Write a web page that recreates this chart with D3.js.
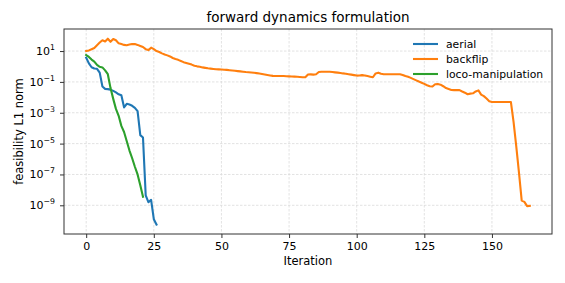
<!DOCTYPE html>
<html>
<head>
<meta charset="utf-8">
<script src="https://cdn.jsdelivr.net/npm/d3@7"></script>
<style>
  body { margin: 0; background: #fff; }
  text { font-family: "DejaVu Sans", sans-serif; fill: #000; }
</style>
</head>
<body>
<script>
// chart size
var w = 565, h = 283;
var margin = {left: 64, right: 13, top: 29, bottom: 49};

// iteration index is the array position for each series
var aerial = [
  3.72, 1.58, 0.891, 0.741, 0.708, 0.398, 0.0501, 0.0355, 0.0339, 0.0316,
  0.0263, 0.0209, 0.0158, 0.0135, 0.00224, 0.0038, 0.00339, 0.00282, 0.00209, 0.00126,
  3.55e-5, 2.51e-5, 4.47e-9, 1.58e-9, 2.24e-9, 1.26e-10, 5.62e-11
];

var backflip = [
  10.0, 11.0, 13.2, 15.8, 24.0, 35.5, 50.1, 41.7, 63.1, 39.8,        // 0-9
  60.3, 50.1, 31.6, 28.2, 25.1, 24.0, 26.3, 28.8, 28.2, 25.1,        // 10-19
  21.4, 18.2, 13.2, 11.5, 16.6, 13.2, 10.0, 8.71, 7.08, 6.03,        // 20-29
  5.25, 4.47, 3.55, 3.02, 2.69, 2.29, 1.91, 1.70, 1.51, 1.32,        // 30-39
  1.12, 1.02, 0.955, 0.871, 0.813, 0.759, 0.724, 0.692, 0.661, 0.646, // 40-49
  0.631, 0.617, 0.603, 0.575, 0.550, 0.525, 0.501, 0.479, 0.457, 0.437, // 50-59
  0.427, 0.407, 0.389, 0.372, 0.347, 0.324, 0.302, 0.282, 0.263, 0.245, // 60-69
  0.240, 0.240, 0.240, 0.240, 0.234, 0.229, 0.224, 0.219, 0.214, 0.209, // 70-79
  0.200, 0.200, 0.302, 0.309, 0.295, 0.316, 0.437, 0.457, 0.457, 0.457, // 80-89
  0.457, 0.437, 0.417, 0.398, 0.380, 0.355, 0.339, 0.316, 0.295, 0.275, // 90-99
  0.257, 0.263, 0.275, 0.263, 0.240, 0.219, 0.200, 0.355, 0.398, 0.339, // 100-109
  0.316, 0.316, 0.316, 0.316, 0.316, 0.316, 0.316, 0.282, 0.240, 0.214, // 110-119
  0.182, 0.151, 0.126, 0.105, 0.0891, 0.0741, 0.0603, 0.0525, 0.0501, 0.0708, // 120-129
  0.0724, 0.0661, 0.0525, 0.0398, 0.0347, 0.0302, 0.0295, 0.0295, 0.0295, 0.0240, // 130-139
  0.0200, 0.0158, 0.0174, 0.0182, 0.0240, 0.0282, 0.0151, 0.0120, 0.00832, 0.00562, // 140-149
  0.00501, 0.00501, 0.00501, 0.00501, 0.00501, 0.00501, 0.00501, 0.00501, 2.51e-4, 6.31e-6, // 150-159
  1.26e-7, 2.0e-9, 1.66e-9, 8.9e-10, 9.3e-10                          // 160-164
];

var locoManipulation = [
  5.50, 4.17, 2.82, 2.09, 1.26, 0.955, 0.871, 0.562, 0.316, 0.0398,
  0.00794, 0.00178, 6.31e-4, 1.41e-4, 5.62e-5, 1.41e-5, 3.55e-6, 1.12e-6, 3.16e-7, 1.0e-7,
  2.0e-8, 3.55e-9
];

var seriesNames = ["aerial", "backflip", "loco-manipulation"];
var seriesColors = ["#1f77b4", "#ff7f0e", "#2ca02c"];
var seriesData = [aerial, backflip, locoManipulation];

var xTicks = [0, 25, 50, 75, 100, 125, 150];
var yTicks = [1e1, 1e-1, 1e-3, 1e-5, 1e-7, 1e-9];
var yTickExps = ["1", "\u22121", "\u22123", "\u22125", "\u22127", "\u22129"];

var svg = d3.select("body")
            .append("svg")
            .attr("width", w)
            .attr("height", h);

var x = d3.scaleLinear()
          .domain([-8.2, 172.2])
          .range([margin.left, w - margin.right]);

var y = d3.scaleLog()
          .domain([1.38e-11, 269])
          .range([h - margin.bottom, margin.top]);

// grid lines
var grid = svg.append("g");
grid.selectAll(".gx")
    .data(xTicks)
    .enter().append("line")
    .attr("x1", function(d) { return x(d); })
    .attr("x2", function(d) { return x(d); })
    .attr("y1", margin.top)
    .attr("y2", h - margin.bottom)
    .attr("stroke", "#dadada")
    .attr("stroke-width", 0.8)
    .attr("stroke-dasharray", "2.5,1.5");
grid.selectAll(".gy")
    .data(yTicks)
    .enter().append("line")
    .attr("x1", margin.left)
    .attr("x2", w - margin.right)
    .attr("y1", function(d) { return y(d); })
    .attr("y2", function(d) { return y(d); })
    .attr("stroke", "#dadada")
    .attr("stroke-width", 0.8)
    .attr("stroke-dasharray", "2.5,1.5");

// lines
var line = d3.line()
             .x(function(d, i) { return x(i); })
             .y(function(d) { return y(d); });

svg.append("g")
   .selectAll("path")
   .data(seriesData)
   .enter().append("path")
   .attr("d", function(d) { return line(d); })
   .attr("fill", "none")
   .attr("stroke", function(d, i) { return seriesColors[i]; })
   .attr("stroke-width", 2.1)
   .attr("stroke-linejoin", "round")
   .attr("stroke-linecap", "square");

// axes
var xAxis = svg.append("g")
   .attr("transform", "translate(0," + (h - margin.bottom) + ")")
   .call(d3.axisBottom(x).tickValues(xTicks).tickSize(4).tickSizeOuter(0).tickPadding(4.5));
xAxis.selectAll("text").attr("font-size", 11).attr("font-family", "DejaVu Sans");

var yAxis = svg.append("g")
   .attr("transform", "translate(" + margin.left + ",0)")
   .call(d3.axisLeft(y).tickValues(yTicks).tickSize(4).tickSizeOuter(0).tickPadding(5)
         .tickFormat(function() { return ""; }));
yAxis.selectAll(".tick text").each(function(d, i) {
    var t = d3.select(this).attr("font-size", 11).attr("font-family", "DejaVu Sans");
    t.append("tspan").text("10");
    t.append("tspan").attr("dy", -5).attr("font-size", 7.8).text(yTickExps[i]);
});

svg.selectAll(".domain").remove();
svg.selectAll(".tick line").attr("stroke", "#333");

// frame
svg.append("rect")
   .attr("x", margin.left)
   .attr("y", margin.top)
   .attr("width", w - margin.left - margin.right)
   .attr("height", h - margin.top - margin.bottom)
   .attr("fill", "none")
   .attr("stroke", "#333")
   .attr("stroke-width", 1);

// title and labels
svg.append("text")
   .attr("x", (margin.left + w - margin.right) / 2)
   .attr("y", 22)
   .attr("text-anchor", "middle")
   .attr("font-size", 13.5)
   .text("forward dynamics formulation");

svg.append("text")
   .attr("x", (margin.left + w - margin.right) / 2)
   .attr("y", 265)
   .attr("text-anchor", "middle")
   .attr("font-size", 11.5)
   .text("Iteration");

svg.append("text")
   .attr("transform", "translate(23," + ((margin.top + h - margin.bottom) / 2) + ") rotate(-90)")
   .attr("text-anchor", "middle")
   .attr("font-size", 11.5)
   .text("feasibility L1 norm");

// legend
var legend = svg.append("g").attr("transform", "translate(413,44)");
var items = legend.selectAll("g")
   .data(seriesNames)
   .enter().append("g")
   .attr("transform", function(d, i) { return "translate(0," + (i * 15) + ")"; });
items.append("line")
   .attr("x1", 0).attr("x2", 25)
   .attr("stroke", function(d, i) { return seriesColors[i]; })
   .attr("stroke-width", 2.1);
items.append("text")
   .attr("x", 33)
   .attr("dy", "0.35em")
   .attr("font-size", 10.8)
   .text(function(d) { return d; });
</script>
</body>
</html>
